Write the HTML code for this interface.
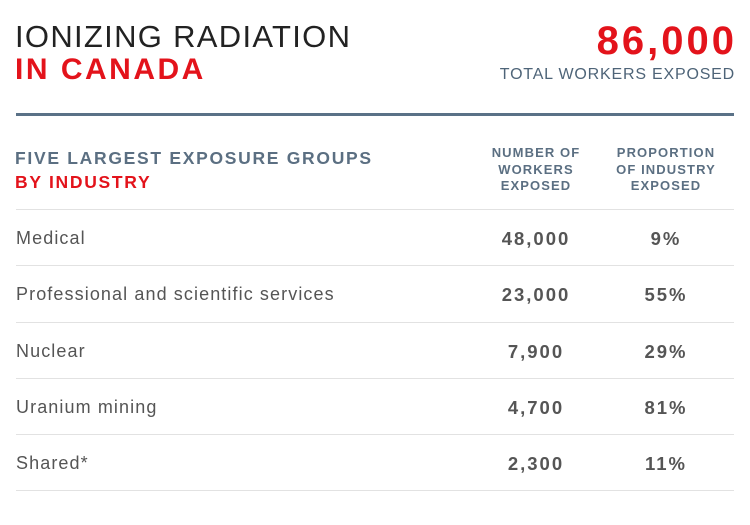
<!DOCTYPE html>
<html><head><meta charset="utf-8"><style>
body{margin:0;width:750px;height:525px;background:#fff;font-family:"Liberation Sans",sans-serif;position:relative;overflow:hidden}
.a{position:absolute;white-space:nowrap}
.hdr{color:#5b6f82;font-weight:bold;font-size:13px;text-align:center;line-height:16.5px;width:140px;letter-spacing:1.1px}
.row{position:absolute;left:16px;width:718px;height:56px;border-top:1px solid #e2e2e2;color:#555;font-size:18px;letter-spacing:1.1px}
.row span{position:absolute;top:18px}
.n{font-weight:bold;width:130px;text-align:center;letter-spacing:2px;font-size:18.5px}
</style></head><body>
<div class="a" style="left:15px;top:19px;font-size:31px;color:#222;font-weight:300;letter-spacing:1.3px">IONIZING RADIATION</div>
<div class="a" style="left:15px;top:53px;font-size:30px;color:#e3131b;font-weight:bold;letter-spacing:2.5px">IN CANADA</div>
<div class="a" style="right:13px;top:19px;font-size:40px;color:#e3131b;font-weight:bold;letter-spacing:3px">86,000</div>
<div class="a" style="right:15px;top:66px;font-size:16px;color:#4e6478;letter-spacing:0.8px">TOTAL WORKERS EXPOSED</div>
<div class="a" style="left:16px;top:113px;width:718px;height:3px;background:#5a7187"></div>
<div class="a" style="left:15px;top:148px;font-size:17.5px;font-weight:bold;color:#5b6f82;letter-spacing:1.7px">FIVE LARGEST EXPOSURE GROUPS</div>
<div class="a" style="left:15px;top:172px;font-size:17.5px;font-weight:bold;color:#e3131b;letter-spacing:1.7px">BY INDUSTRY</div>
<div class="a hdr" style="left:466px;top:145px">NUMBER OF<br>WORKERS<br>EXPOSED</div>
<div class="a hdr" style="left:596px;top:145px">PROPORTION<br>OF INDUSTRY<br>EXPOSED</div>
<div id="rows"></div>
<div class="a" style="left:16px;top:490px;width:718px;height:1px;background:#e2e2e2"></div>
<script>
const industries=["Medical","Professional and scientific services","Nuclear","Uranium mining","Shared*"];
const workers=["48,000","23,000","7,900","4,700","2,300"];
const proportions=["9%","55%","29%","81%","11%"];
const c=document.getElementById('rows');
industries.forEach((ind,i)=>{
 const r=document.createElement('div');r.className='row';r.style.top=(209+i*56.3)+'px';
 
 
 r.innerHTML='<span style="left:0">'+ind+'</span><span class="n" style="left:455px">'+workers[i]+'</span><span class="n" style="left:585px">'+proportions[i]+'</span>';
 c.appendChild(r);
});
</script>
</body></html>
